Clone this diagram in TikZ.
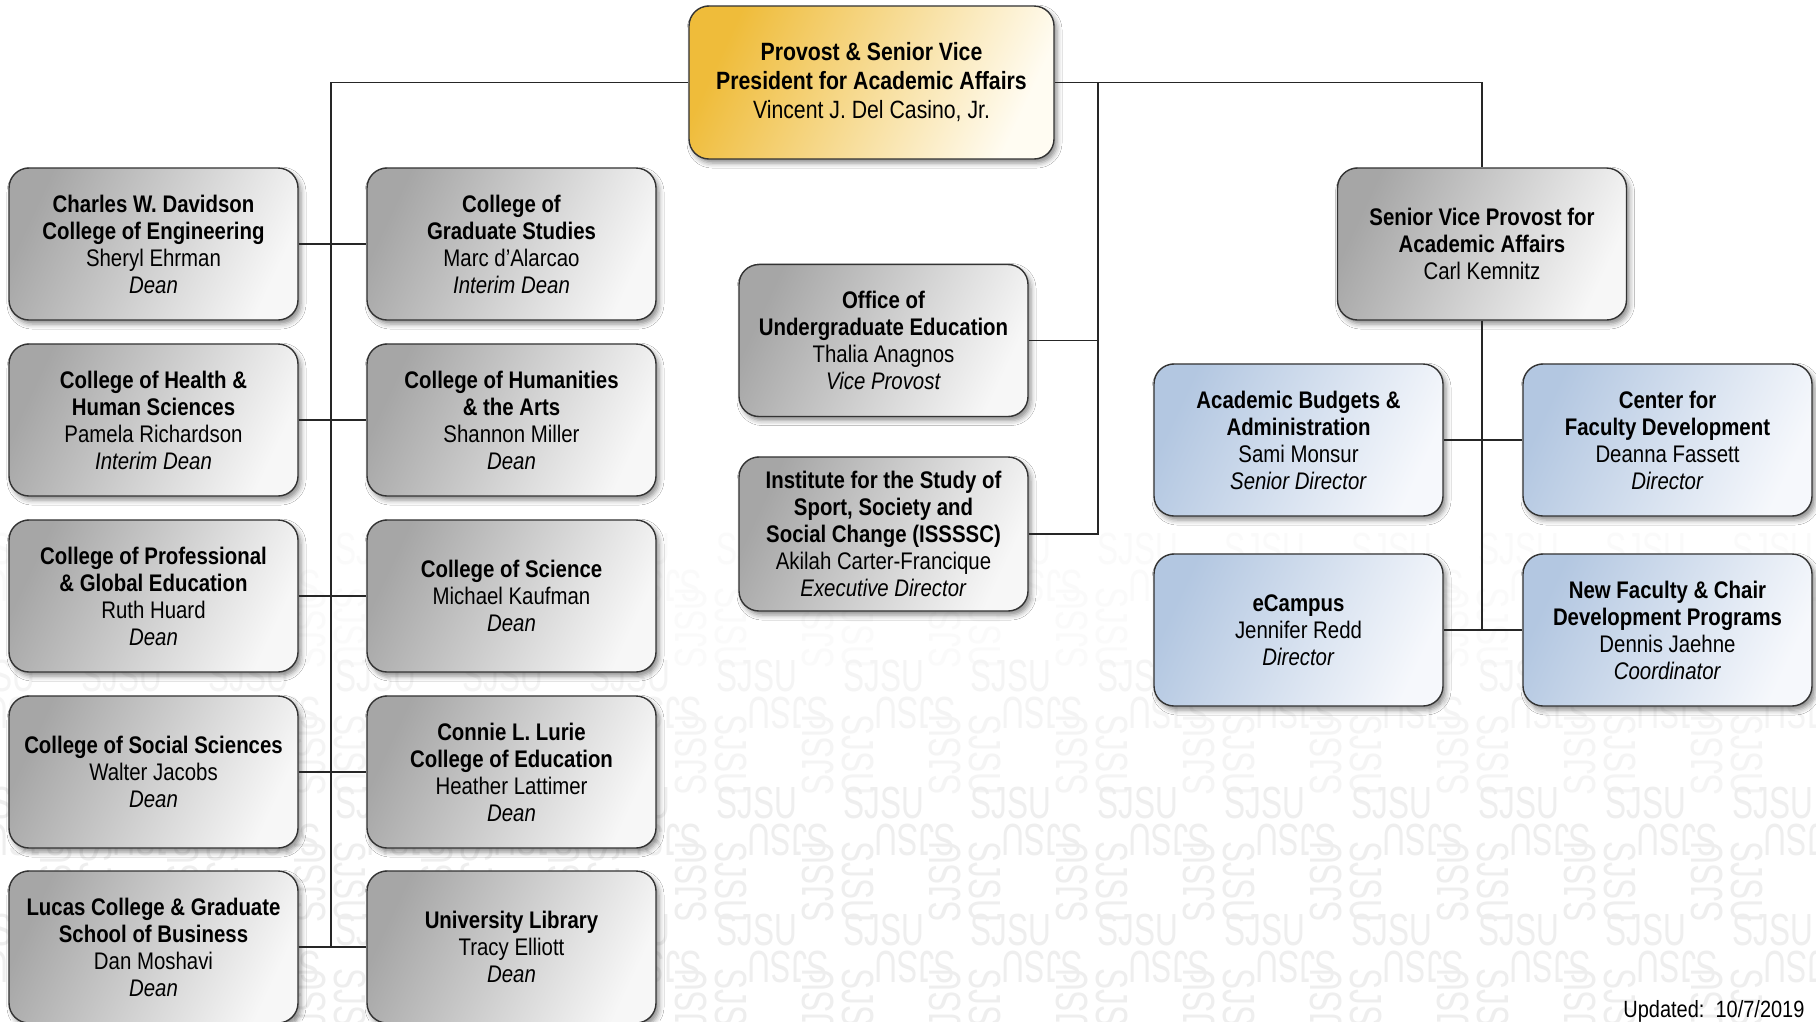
\documentclass[tikz,border=0pt]{standalone}
\usepackage{fontspec}
\setmainfont{Liberation Sans}[FakeStretch=0.85]
\newfontfamily\wmfont{Liberation Sans}[FakeStretch=0.7]
\usepackage{tikz}
\usetikzlibrary{shadows.blur}
\usetikzlibrary{positioning}

\definecolor{provgold}{HTML}{EFBC3A}
\definecolor{provcream}{HTML}{FFFCF2}
\definecolor{unitgrey}{HTML}{A6A6A6}
\definecolor{unitwhite}{HTML}{F7F7F7}
\definecolor{svpblue}{HTML}{B3C7E1}
\definecolor{svpwhite}{HTML}{F6F8FC}
\definecolor{wmgrey}{HTML}{EEEEEE}

\begin{document}
\begin{tikzpicture}[x=1pt,y=-1pt,
	box/.style={draw=black!80, line width=1.4pt, rounded corners=20pt, minimum width=289pt, minimum height=152pt, align=center, inner sep=4pt, font=\fontsize{24}{27}\selectfont, blur shadow={shadow xshift=3pt, shadow yshift=-4pt, shadow blur radius=5pt, shadow opacity=45}},
	greybox/.style={box, left color=unitgrey, right color=unitwhite, shading angle=65},
	bluebox/.style={box, left color=svpblue, right color=svpwhite, shading angle=65},
	goldbox/.style={box, minimum width=365pt, minimum height=153pt, font=\fontsize{25}{29}\selectfont, left color=provgold, right color=provcream, shading angle=65},
	conn/.style={line width=1.5pt, black!85},
	wm/.style={font=\wmfont\fontsize{45}{45}\selectfont, inner sep=0pt}]
		\useasboundingbox (0,0) rectangle (1816,1021);
		\fill[white] (0,0) rectangle (1816,1021);
		
		% watermark
		\begin{scope}
			\clip (0,0) rectangle (1816,1021);
			\foreach \k/\op in {-1/30,0/65,1/100,2/100} {
				\foreach \m in {-6,...,8} {
					\node[wm, text=wmgrey!\op] at (757+127*\m, 676+127*\k) {SJSU};
					\node[wm, text=wmgrey!\op, rotate=180] at (788+127*\m, 713+127*\k) {SJSU};
					\node[wm, text=wmgrey!\op, rotate=90] at (691+127*\m, 755+127*\k) {SJSU};
					\node[wm, text=wmgrey!\op, rotate=-90] at (731+127*\m, 755+127*\k) {SJSU};
				}
			}
		\end{scope}
		
		% provost
		\node[goldbox] (prov) at (871.5,82.5) {\textbf{Provost \& Senior Vice}\\\textbf{President for Academic Affairs}\\Vincent J. Del Casino, Jr.};
		
		% colleges
		\node[greybox] (eng) at (153.5,244) {\textbf{Charles W. Davidson}\\\textbf{College of Engineering}\\Sheryl Ehrman\\\textit{Dean}};
		\node[greybox] (grad) at (511.5,244) {\textbf{College of}\\\textbf{Graduate Studies}\\Marc d'Alarcao\\\textit{Interim Dean}};
		\node[greybox] (hhs) at (153.5,420) {\textbf{College of Health \&}\\\textbf{Human Sciences}\\Pamela Richardson\\\textit{Interim Dean}};
		\node[greybox] (hum) at (511.5,420) {\textbf{College of Humanities}\\\textbf{\& the Arts}\\Shannon Miller\\\textit{Dean}};
		\node[greybox] (pge) at (153.5,596) {\textbf{College of Professional}\\\textbf{\& Global Education}\\Ruth Huard\\\textit{Dean}};
		\node[greybox] (sci) at (511.5,596) {\textbf{College of Science}\\Michael Kaufman\\\textit{Dean}};
		\node[greybox] (soc) at (153.5,772) {\textbf{College of Social Sciences}\\Walter Jacobs\\\textit{Dean}};
		\node[greybox] (edu) at (511.5,772) {\textbf{Connie L. Lurie}\\\textbf{College of Education}\\Heather Lattimer\\\textit{Dean}};
		\node[greybox] (bus) at (153.5,947) {\textbf{Lucas College \& Graduate}\\\textbf{School of Business}\\Dan Moshavi\\\textit{Dean}};
		\node[greybox] (lib) at (511.5,947) {\textbf{University Library}\\Tracy Elliott\\\textit{Dean}};
		
		% middle offices
		\node[greybox] (ug) at (883.5,340.5) {\textbf{Office of}\\\textbf{Undergraduate Education}\\Thalia Anagnos\\\textit{Vice Provost}};
		\node[greybox, minimum height=154pt] (isssc) at (883.5,534) {\textbf{Institute for the Study of}\\\textbf{Sport, Society and}\\\textbf{Social Change (ISSSSC)}\\Akilah Carter-Francique\\\textit{Executive Director}};
		
		% senior vice provost
		\node[greybox] (svp) at (1482,244) {\textbf{Senior Vice Provost for}\\\textbf{Academic Affairs}\\Carl Kemnitz};
		\node[bluebox] (abud) at (1298.5,440) {\textbf{Academic Budgets \&}\\\textbf{Administration}\\Sami Monsur\\\textit{Senior Director}};
		\node[bluebox] (cfd) at (1667.5,440) {\textbf{Center for}\\\textbf{Faculty Development}\\Deanna Fassett\\\textit{Director}};
		\node[bluebox] (ecam) at (1298.5,630) {\textbf{eCampus}\\Jennifer Redd\\\textit{Director}};
		\node[bluebox] (nfc) at (1667.5,630) {\textbf{New Faculty \& Chair}\\\textbf{Development Programs}\\Dennis Jaehne\\\textit{Coordinator}};
		
		% lines
		\coordinate (lend) at (331,947);
		\coordinate (mtop) at (1098,82.5);
		\draw[conn] (prov.west) -| (lend);
		\foreach \a/\b in {eng/grad,hhs/hum,pge/sci,soc/edu,bus/lib}
			\draw[conn] (\a.east) -- (\b.west);
		\draw[conn] (isssc.east) -| (mtop);
		\draw[conn] (ug.east) -- (ug.east -| mtop);
		\draw[conn] (prov.east) -| (svp.north);
		\draw[conn] (svp.south) -- (svp.south |- nfc.west);
		\draw[conn] (abud.east) -- (cfd.west);
		\draw[conn] (ecam.east) -- (nfc.west);
		
		\node[anchor=east, font=\fontsize{23.5}{26}\selectfont] (upd) at (1808,1011) {Updated:\ \ 10/7/2019};
	\end{tikzpicture}
\end{document}
